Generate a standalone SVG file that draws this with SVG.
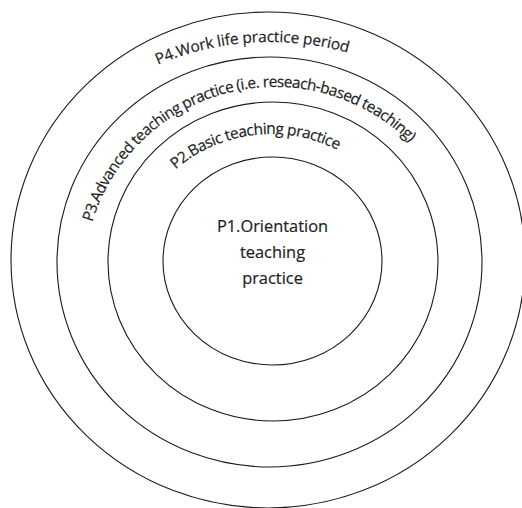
<svg xmlns="http://www.w3.org/2000/svg" width="522" height="508" viewBox="0 0 522 508">
  <style>
    .ring { fill: none; stroke: #1a1a1a; stroke-width: 1.1; }
    .label { font-family: "Open Sans", "Noto Sans", sans-serif; fill: #1e1e1e; stroke: #1e1e1e; stroke-width: 0.2; }
    .arc-label { font-size: 15.4px; }
    .core-label { font-size: 16.4px; text-anchor: middle; }
  </style>
  <defs>
    <!-- baselines for the curved phase labels -->
    <path id="arc-p4" d="M157.9,64.7 A288,288 0 0 1 347.9,52.7"/>
    <path id="arc-p3" d="M92.3,222.2 A191,191 0 0 1 410.1,142.9"/>
    <path id="arc-p2" d="M175.6,169.5 A146,146 0 0 1 337.5,150"/>
  </defs>

  <rect width="522" height="508" fill="#fff"/>

  <g id="p4">
    <ellipse class="ring" cx="268" cy="260" rx="257" ry="248"/>
    <text class="label arc-label"><textPath href="#arc-p4" textLength="194" lengthAdjust="spacing">P4.Work life practice period</textPath></text>
  </g>

  <g id="p3">
    <ellipse class="ring" cx="269.5" cy="262" rx="212.5" ry="205"/>
    <text class="label arc-label"><textPath href="#arc-p3" textLength="393" lengthAdjust="spacing">P3.Advanced teaching practice (i.e. reseach-based teaching)</textPath></text>
  </g>

  <g id="p2">
    <ellipse class="ring" cx="273" cy="261.5" rx="165" ry="159.5"/>
    <text class="label arc-label"><textPath href="#arc-p2" textLength="173" lengthAdjust="spacing">P2.Basic teaching practice</textPath></text>
  </g>

  <g id="p1">
    <ellipse class="ring" cx="272.5" cy="261" rx="109.5" ry="104"/>
    <text class="label core-label" x="272.5" y="231.5">P1.Orientation</text>
    <text class="label core-label" x="272.5" y="257.5">teaching</text>
    <text class="label core-label" x="272.5" y="283.5">practice</text>
  </g>
</svg>
